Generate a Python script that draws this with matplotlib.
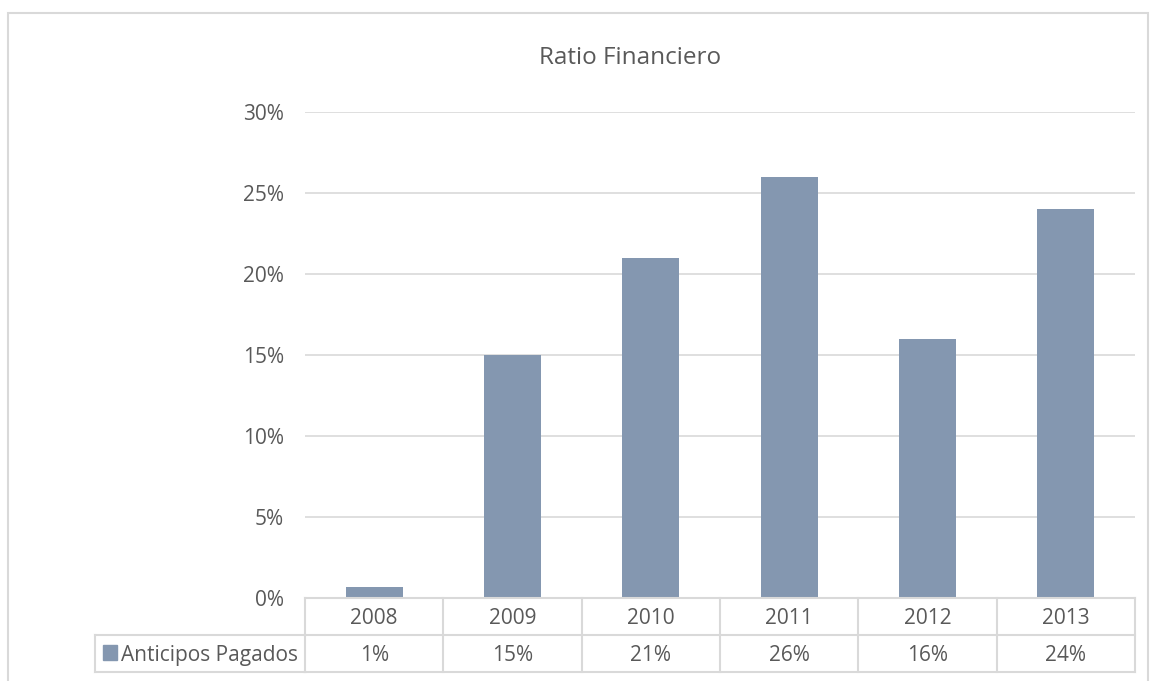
import matplotlib.pyplot as plt
import matplotlib.transforms as mtransforms
from matplotlib.patches import Rectangle
from matplotlib.lines import Line2D

plt.rcParams['font.family'] = ['Open Sans', 'DejaVu Sans']

years = ['2008', '2009', '2010', '2011', '2012', '2013']
anticipos = [0.7, 15, 21, 26, 16, 24]
series_name = 'Anticipos Pagados'
y_ticks = [0, 5, 10, 15, 20, 25, 30]

BAR = '#8497B0'
GRID = '#D9D9D9'
TXT = '#595959'
FS = 15

W, H = 1151, 681
fig = plt.figure(figsize=(W / 100, H / 100), dpi=100)


def fx(px):
    return px / W


def fy(py):
    return 1 - py / H


# chart frame
fig.add_artist(Rectangle((fx(8), fy(700)), fx(1140), fy(13) - fy(700),
                         transform=fig.transFigure, fill=False,
                         edgecolor=GRID, lw=1.5))

ax = fig.add_axes([fx(305), fy(598), fx(1135) - fx(305), fy(112) - fy(598)])
x = range(len(years))
ax.bar(x, anticipos, width=0.41, color=BAR, zorder=3)
ax.set_xlim(-0.5, len(years) - 0.5)
ax.set_ylim(0, 30)
ax.set_yticks(y_ticks)
ax.set_yticklabels([f'{t}%' for t in y_ticks])
ax.set_xticks([])
ax.tick_params(axis='y', length=0, pad=15, labelsize=FS, labelcolor=TXT)
ax.grid(axis='y', color=GRID, lw=1.2, zorder=0)
for s in ax.spines.values():
    s.set_visible(False)

fig.text(fx(630), fy(58), 'Ratio Financiero', ha='center', va='center',
         fontsize=17.5, color=TXT)

# data table under the axes
trans = mtransforms.blended_transform_factory(ax.transData, fig.transFigure)
r0, r1, r2 = fy(598), fy(635), fy(672)
lkw = dict(color=GRID, lw=1.5, clip_on=False)
for yv in (r0, r1, r2):
    fig.add_artist(Line2D([-0.5, len(years) - 0.5], [yv, yv], transform=trans, **lkw))
fig.add_artist(Line2D([fx(95), fx(305)], [r1, r1], transform=fig.transFigure, **lkw))
fig.add_artist(Line2D([fx(95), fx(305)], [r2, r2], transform=fig.transFigure, **lkw))
fig.add_artist(Line2D([fx(95), fx(95)], [r1, r2], transform=fig.transFigure, **lkw))
for i in range(len(years) + 1):
    fig.add_artist(Line2D([i - 0.5, i - 0.5], [r0, r2], transform=trans, **lkw))

for i, (yr, v) in enumerate(zip(years, anticipos)):
    fig.text(i, (r0 + r1) / 2 - 0.003, yr, transform=trans, ha='center',
             va='center', fontsize=FS, color=TXT)
    fig.text(i, (r1 + r2) / 2 - 0.003, f'{v:.0f}%', transform=trans,
             ha='center', va='center', fontsize=FS, color=TXT)

fig.add_artist(Rectangle((fx(103), fy(660)), fx(14), fy(645) - fy(660),
                         transform=fig.transFigure, color=BAR))
fig.text(fx(121), (r1 + r2) / 2 - 0.003, series_name, ha='left', va='center',
         fontsize=FS, color=TXT)

fig.savefig('out.png', dpi=100)
